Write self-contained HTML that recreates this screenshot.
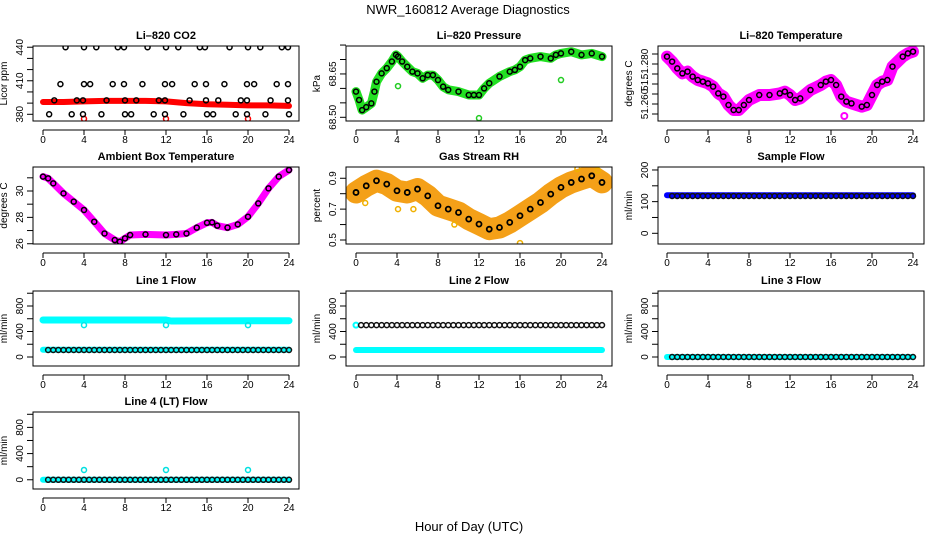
<!DOCTYPE html>
<html><head><meta charset="utf-8">
<style>
html,body{margin:0;padding:0;background:#fff;}
svg{display:block;font-family:"Liberation Sans",Arial,sans-serif;}
</style></head>
<body>
<svg id="chart" width="936" height="540" viewBox="0 0 936 540" xmlns="http://www.w3.org/2000/svg">
<text x="468" y="14" text-anchor="middle" font-size="13">NWR_160812  Average Diagnostics</text>
<text x="469" y="531" text-anchor="middle" font-size="13">Hour of Day (UTC)</text>
</svg>
<script>
// ---------- data ----------
const xTicks = [0,4,8,12,16,20,24];
const halfHours = [0.5,1,1.5,2,2.5,3,3.5,4,4.5,5,5.5,6,6.5,7,7.5,8,8.5,9,9.5,10,10.5,11,11.5,12,12.5,13,13.5,14,14.5,15,15.5,16,16.5,17,17.5,18,18.5,19,19.5,20,20.5,21,21.5,22,22.5,23,23.5,24];

// CO2
const co2RedHours = [0,2,4,6,8,10,12,14,16,18,20,22,24];
const co2RedValues = [391,391,391.5,392,392,392,391.5,390,389,388.5,388,388,387.5];
const co2RedOutHours = [4,12,20];
const co2RedOutValues = [376,376,376];
const co2BlackHours = [2.2,4.0,5.2,7.3,7.9,10.2,12.0,13.2,15.3,15.8,18.2,20.0,21.2,23.3,23.9,
 1.7,4.0,4.6,6.8,7.9,9.7,11.9,12.6,14.8,15.9,17.7,19.9,20.6,22.8,23.9,
 1.1,3.3,3.9,6.2,8.0,9.1,11.3,11.9,14.3,15.9,17.1,19.3,19.9,22.2,23.9,
 0.6,2.8,3.9,5.7,8.0,8.6,10.8,11.9,13.7,16.0,16.6,18.8,19.9,21.7,24.0];
const co2BlackValues = [440,440,440,440,440,440,440,440,440,440,440,440,440,440,440,
 407,407,407,407,407,407,407,407,407,407,407,407,407,407,407,
 392.5,392.5,392.5,392.5,392.5,392.5,392.5,392.5,392.5,392.5,392.5,392.5,392.5,392.5,392.5,
 380,380,380,380,380,380,380,380,380,380,380,380,380,380,380];

// Pressure
const presHours = [0,0.3,0.6,1,1.5,1.8,2,2.5,3,3.5,3.9,4.1,4.5,5,5.5,6,6.5,7,7.5,8,8.5,9,10,11,11.5,12,12.5,13,14,15,15.5,16,16.5,17,18,19,19.5,20,21,22,23,24];
const presValues = [68.589,68.560,68.525,68.535,68.548,68.589,68.623,68.652,68.670,68.693,68.716,68.710,68.693,68.675,68.658,68.652,68.635,68.646,68.646,68.629,68.606,68.595,68.589,68.577,68.577,68.577,68.600,68.618,68.641,68.658,68.664,68.675,68.698,68.704,68.710,68.704,68.716,68.721,68.727,68.716,68.721,68.710];
const presOutHours = [4.1,12,20];
const presOutValues = [68.608,68.497,68.629];

// Li-820 temperature
const tempHours = [0,0.5,1,1.5,2,2.5,3,3.5,4,4.5,5,5.5,6,6.5,7,7.5,8,9,10,11,11.5,12,12.5,13,14,15,15.5,16,16.5,17,17.5,18,19,19.5,20,20.5,21,21.5,22,23,23.5,24];
const tempValues = [51.2837,51.2812,51.2778,51.2753,51.2762,51.2737,51.2720,51.2712,51.2703,51.2687,51.2653,51.2637,51.2595,51.2570,51.2570,51.2595,51.2620,51.2645,51.2645,51.2653,51.2662,51.2645,51.2620,51.2628,51.2670,51.2695,51.2712,51.2720,51.2695,51.2637,51.2612,51.2603,51.2587,51.2595,51.2645,51.2695,51.2712,51.2720,51.2787,51.2837,51.2853,51.2862];
const tempOutHours = [17.3];
const tempOutValues = [51.254];

// Ambient box temperature
const ambHours = [0,0.5,1,2,3,4,5,6,7,7.5,8,8.5,10,12,13,14,15,16,16.5,17,18,19,20,21,22,23,24];
const ambValues = [31.09,30.96,30.58,29.82,29.19,28.56,27.67,26.78,26.28,26.15,26.41,26.66,26.71,26.66,26.71,26.78,27.22,27.59,27.62,27.37,27.22,27.47,28.05,29.06,30.20,31.09,31.59];

// Gas stream RH
const rhHours = [0,1,2,3,4,5,6,7,8,9,10,11,12,13,14,15,16,17,18,19,20,21,22,23,24];
const rhValues = [0.808,0.851,0.884,0.862,0.819,0.808,0.830,0.786,0.722,0.700,0.678,0.635,0.603,0.570,0.581,0.614,0.657,0.700,0.743,0.797,0.841,0.873,0.895,0.916,0.873];
const rhOutHours = [0.9,4.1,5.6,9.6,16.0,21.6,23.6];
const rhOutValues = [0.74,0.70,0.70,0.60,0.48,0.96,0.95];

// Sample flow
const sampleBandHours = [0,24];
const sampleBandValues = [120,120];
const sampleBlackValues = [118,118,118,118,118,118,118,118,118,118,118,118,118,118,118,118,118,118,118,118,118,118,118,118,118,118,118,118,118,118,118,118,118,118,118,118,118,118,118,118,118,118,118,118,118,118,118,118];

// Line 1
const line1BandHours = [0,12,12.5,24];
const line1BandValues = [580,580,565,570];
const line1OutHours = [4,12,20];
const line1OutValues = [500,500,500];
const line1LowBandValues = [115,115];
const line1BlackValues = [110,110,110,110,110,110,110,110,110,110,110,110,110,110,110,110,110,110,110,110,110,110,110,110,110,110,110,110,110,110,110,110,110,110,110,110,110,110,110,110,110,110,110,110,110,110,110,110];

// Line 2
const line2BandValues = [110,110];
const line2BlackValues = [500,500,500,500,500,500,500,500,500,500,500,500,500,500,500,500,500,500,500,500,500,500,500,500,500,500,500,500,500,500,500,500,500,500,500,500,500,500,500,500,500,500,500,500,500,500,500,500];
const line2StartValue = [500];

// Line 3
const line3BandValues = [0,0];
const line3BlackValues = [0,0,0,0,0,0,0,0,0,0,0,0,0,0,0,0,0,0,0,0,0,0,0,0,0,0,0,0,0,0,0,0,0,0,0,0,0,0,0,0,0,0,0,0,0,0,0,0];

// Line 4
const line4BandValues = [0,0];
const line4OutHours = [4,12,20];
const line4OutValues = [150,150,150];
const line4BlackValues = [0,0,0,0,0,0,0,0,0,0,0,0,0,0,0,0,0,0,0,0,0,0,0,0,0,0,0,0,0,0,0,0,0,0,0,0,0,0,0,0,0,0,0,0,0,0,0,0];

// ---------- layout ----------
const NS = 'http://www.w3.org/2000/svg';
const svg = document.getElementById('chart');
const colBox = [[33,299,43,289],[346,612,356,602],[658,924,667,913]];
const rowBox = [[46,121],[167,244],[291,366],[412,489]];

function mk(tag, attrs, parent){
  const e = document.createElementNS(NS, tag);
  for (const k in attrs) e.setAttribute(k, attrs[k]);
  (parent||svg).appendChild(e);
  return e;
}

function panel(name, title, ytitle, col, row, ymin, ymax, yticks, ylabVals, ylabTexts){
  const [bl,br,x0,x24] = colBox[col];
  const [bt,bb] = rowBox[row];
  const g = mk('g', {});
  
  
  const xs = h => x0 + (x24 - x0) * h / 24;
  const ys = v => bb - (bb - bt) * (v - ymin) / (ymax - ymin);
  const t = mk('text', {x:(bl+br)/2, y:bt-7, 'text-anchor':'middle', 'font-size':11, 'font-weight':'bold'}, g);
  
  
  t.textContent = title;
  const yt = mk('text', {x:0, y:0, 'text-anchor':'middle', 'font-size':10, transform:`translate(${bl-26},${(bt+bb)/2}) rotate(-90)`}, g);
  
  
  yt.textContent = ytitle;
  const xa = mk('g', {}, g);
  
  
  mk('line', {x1:xs(xTicks[0]), x2:xs(xTicks[xTicks.length-1]), y1:bb+9, y2:bb+9, stroke:'#000', 'stroke-width':1}, xa);
  xTicks.forEach(h => {
    mk('line', {x1:xs(h), x2:xs(h), y1:bb+9, y2:bb+14, stroke:'#000', 'stroke-width':1}, xa);
    const l = mk('text', {x:xs(h), y:bb+22, 'text-anchor':'middle', 'font-size':10}, xa);
    l.textContent = h;
  });
  const ya = mk('g', {}, g);
  
  
  yticks.forEach(v => {
    mk('line', {x1:bl-6, x2:bl, y1:ys(v), y2:ys(v), stroke:'#000', 'stroke-width':1}, ya);
  });
  ylabVals.forEach((v,i) => {
    const l = mk('text', {x:0, y:0, 'text-anchor':'middle', 'font-size':10, transform:`translate(${bl-10},${ys(v)}) rotate(-90)`}, ya);
    l.textContent = ylabTexts[i];
  });
  const clip = mk('clipPath', {id:'clip-'+name}, g);
  mk('rect', {x:bl, y:bt, width:br-bl, height:bb-bt}, clip);
  const plot = mk('g', {'clip-path':`url(#clip-${name})`}, g);
  
  
  const box = mk('rect', {x:bl, y:bt, width:br-bl, height:bb-bt, fill:'none', stroke:'#000', 'stroke-width':1}, g);
  
  
  return {plot, xs, ys};
}

function band(p, nm, hours, vals, color, width){
  const pts = hours.map((h,i) => p.xs(h).toFixed(1) + ',' + p.ys(vals[i]).toFixed(1)).join(' ');
  const e = mk('polyline', {points:pts, fill:'none', stroke:color, 'stroke-width':width, 'stroke-linejoin':'round', 'stroke-linecap':'round'}, p.plot);
  
  
}
function circles(p, nm, hours, vals, color, r, sw){
  const g = mk('g', {}, p.plot);
  
  
  hours.forEach((h,i) => {
    const c = mk('circle', {cx:p.xs(h), cy:p.ys(vals[i]), r:r, fill:'none', stroke:color, 'stroke-width':sw}, g);
    
    
  });
}

const flowTicks = [0,200,400,600,800,1000];
const flowLab = [0,400,800];
const flowLabT = ['0','400','800'];

let p = panel('co2','Li\u2013820 CO2','Licor ppm',0,0,374,441.1,[380,390,400,410,420,430,440],[380,410,440],['380','410','440']);
band(p,'co2-red-band',co2RedHours,co2RedValues,'#ff0000',6);
circles(p,'co2-red-outliers',co2RedOutHours,co2RedOutValues,'#ff0000',2.5,1.5);
circles(p,'co2-black-points',co2BlackHours,co2BlackValues,'#000',2.5,1.5);

p = panel('pressure','Li\u2013820 Pressure','kPa',1,0,68.4872,68.7467,[68.50,68.55,68.60,68.65,68.70,68.75],[68.50,68.65],['68.50','68.65']);
band(p,'pressure-green-band',presHours,presValues,'#22e022',9);
circles(p,'pressure-green-outliers',presOutHours,presOutValues,'#22cc22',2.5,1.5);
circles(p,'pressure-black-points',presHours,presValues,'#000',2.5,1.5);

p = panel('li820-temp','Li\u2013820 Temperature','degrees C',2,0,51.2515,51.289,[51.255,51.26,51.265,51.27,51.275,51.28,51.285],[51.26,51.27,51.28],['51.260','51.','51.280']);
band(p,'temp-magenta-band',tempHours,tempValues,'#ff00ff',12);
circles(p,'temp-magenta-outliers',tempOutHours,tempOutValues,'#ff00ff',3,2);
circles(p,'temp-black-points',tempHours,tempValues,'#000',2.5,1.5);

p = panel('ambient','Ambient Box Temperature','degrees C',0,1,25.98,31.82,[26,27,28,29,30,31],[26,28,30],['26','28','30']);
band(p,'ambient-magenta-band',ambHours,ambValues,'#ff00ff',7);
circles(p,'ambient-black-points',ambHours,ambValues,'#000',2.5,1.5);

p = panel('rh','Gas Stream RH','percent',1,1,0.474,0.973,[0.5,0.6,0.7,0.8,0.9],[0.5,0.7,0.9],['0.5','0.7','0.9']);
band(p,'rh-orange-band',rhHours,rhValues,'#f4a018',22);
circles(p,'rh-yellow-outliers',rhOutHours,rhOutValues,'#f0b000',2.5,1.5);
circles(p,'rh-black-points',rhHours,rhValues,'#000',2.5,1.8);

p = panel('sample-flow','Sample Flow','ml/min',2,1,-33.8,209.4,[0,50,100,150,200],[0,100,200],['0','100','200']);
band(p,'sample-blue-band',sampleBandHours,sampleBandValues,'#0000ff',6);
circles(p,'sample-black-points',halfHours,sampleBlackValues,'#111',2.5,1.5);

p = panel('line1','Line 1 Flow','ml/min',0,2,-141,1035,flowTicks,flowLab,flowLabT);
band(p,'line1-cyan-band',line1BandHours,line1BandValues,'#00ffff',7);
circles(p,'line1-cyan-outliers',line1OutHours,line1OutValues,'#00e8e8',2.5,1.5);
band(p,'line1-cyan-low-band',sampleBandHours,line1LowBandValues,'#00ffff',6);
circles(p,'line1-black-points',halfHours,line1BlackValues,'#111',2.5,1.5);

p = panel('line2','Line 2 Flow','ml/min',1,2,-141,1035,flowTicks,flowLab,flowLabT);
band(p,'line2-cyan-band',sampleBandHours,line2BandValues,'#00ffff',6);
circles(p,'line2-cyan-start',[0],line2StartValue,'#00ffff',2.5,2);
circles(p,'line2-black-points',halfHours,line2BlackValues,'#111',2.5,1.5);

p = panel('line3','Line 3 Flow','ml/min',2,2,-141,1035,flowTicks,flowLab,flowLabT);
band(p,'line3-cyan-band',sampleBandHours,line3BandValues,'#00ffff',6);
circles(p,'line3-black-points',halfHours,line3BlackValues,'#111',2.5,1.5);

p = panel('line4','Line 4 (LT) Flow','ml/min',0,3,-141,1035,flowTicks,flowLab,flowLabT);
band(p,'line4-cyan-band',sampleBandHours,line4BandValues,'#00ffff',6);
circles(p,'line4-cyan-outliers',line4OutHours,line4OutValues,'#00e0e0',2.5,1.5);
circles(p,'line4-black-points',halfHours,line4BlackValues,'#111',2.5,1.5);
</script>
</body></html>
